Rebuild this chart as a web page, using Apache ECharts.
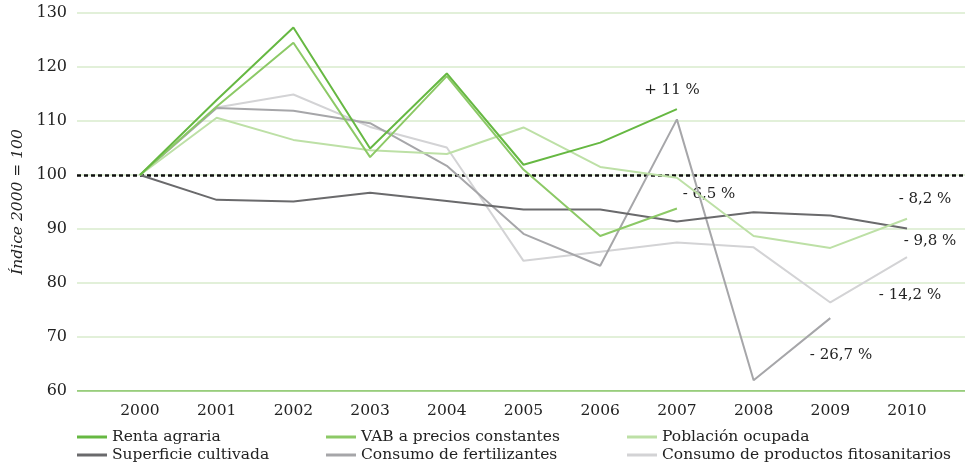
<!DOCTYPE html>
<html><head><meta charset="utf-8">
<script src="https://cdn.jsdelivr.net/npm/echarts@6/dist/echarts.min.js"></script>
<style>html,body{margin:0;padding:0;background:#fff}#c{width:967px;height:465px}</style>
</head><body><div id="c"></div>
<script>
const years = [2000,2001,2002,2003,2004,2005,2006,2007,2008,2009,2010];
const yTicks = [60,70,80,90,100,110,120,130];
const seriesNames = ['Renta agraria','VAB a precios constantes','Población ocupada','Superficie cultivada','Consumo de fertilizantes','Consumo de productos fitosanitarios'];
const rentaAgraria = [100,113.9,127.3,104.9,118.8,101.9,106.0,112.2,null,null,null];
const vabConstantes = [100,112.7,124.5,103.3,118.3,101.0,88.7,93.8,null,null,null];
const poblacionOcupada = [100,110.6,106.5,104.6,103.9,108.8,101.5,99.5,88.7,86.5,91.9];
const superficieCultivada = [100,95.4,95.1,96.7,95.2,93.6,93.6,91.4,93.1,92.5,90.1];
const consumoFertilizantes = [100,112.4,111.9,109.6,101.7,89.1,83.2,110.3,62.0,73.5,null];
const consumoFitosanitarios = [100,112.5,114.9,108.9,105.1,84.1,85.8,87.5,86.6,76.4,84.8];
const annotations = [
  {text:'+ 11 %', x:672, y:90},
  {text:'- 6,5 %', x:709, y:194},
  {text:'- 8,2 %', x:925, y:199},
  {text:'- 9,8 %', x:930, y:241},
  {text:'- 14,2 %', x:910, y:295},
  {text:'- 26,7 %', x:841, y:355}
];
const allData = [rentaAgraria,vabConstantes,poblacionOcupada,superficieCultivada,consumoFertilizantes,consumoFitosanitarios];
const colors = ['#66b842','#8cc966','#bde0a6','#6a6a6c','#a6a6a9','#d3d3d5'];
const FONT = 'DejaVu Serif';

const series = seriesNames.map((n,i)=>({
  name:n, type:'line', showSymbol:false, symbol:'none',
  data: years.map((y,j)=> allData[i][j]==null ? [y,null] : [y, allData[i][j]]),
  lineStyle:{color:colors[i], width:2},
  itemStyle:{color:colors[i]},
  connectNulls:false, z: 10-i,
  animation:false
}));
series[0].markLine = {
  silent:true, symbol:'none', label:{show:false},
  lineStyle:{color:'#111', type:[4,3], width:2.5},
  data:[{yAxis:100}]
};

const legendPos = [[72,424],[321,424],[622,424],[72,442],[321,442],[622,442]];
const legends = seriesNames.map((n,i)=>({
  data:[n], left:legendPos[i][0], top:legendPos[i][1],
  itemWidth:30, itemHeight:3, itemGap:6,
  icon:'rect',
  textStyle:{fontFamily:FONT, fontSize:15.5, color:'#222'}
}));

const chart = echarts.init(document.getElementById('c'));
chart.setOption({
  animation:false,
  color:colors,
  grid:{left:77, right:2, top:13, bottom:74},
  legend: legends,
  xAxis:{
    type:'value', min:1999.179, max:2010.756,
    splitLine:{show:false},
    axisLine:{show:false}, axisTick:{show:false},
    axisLabel:{customValues:years, formatter:v=>String(v), fontFamily:FONT, fontSize:15.5, color:'#222', margin:12}
  },
  yAxis:{
    type:'value', min:60, max:130, interval:10,
    name:'Índice 2000 = 100', nameLocation:'middle', nameGap:51,
    nameTextStyle:{fontFamily:FONT, fontStyle:'italic', fontSize:15.5, color:'#222'},
    axisLine:{show:false}, axisTick:{show:false},
    axisLabel:{fontFamily:FONT, fontSize:16, color:'#222', margin:10},
    splitLine:{lineStyle:{color:'#d9ebcd', width:1.5}}
  },
  graphic: annotations.map(a=>({
    type:'text', x:a.x, y:a.y,
    style:{text:a.text, fontFamily:FONT, fontSize:15, fill:'#222', align:'center', verticalAlign:'middle'}
  })),
  series: series.concat([{
    type:'line', data:[[1999.179,60],[2010.756,60]], symbol:'none', silent:true,
    lineStyle:{color:'#7fc25e', width:1.5}, z:1, animation:false, tooltip:{show:false}
  }])
});
</script></body></html>
